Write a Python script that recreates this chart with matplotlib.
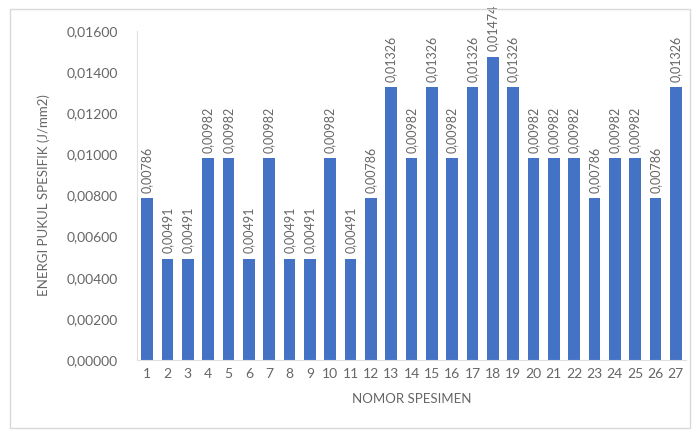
import matplotlib.pyplot as plt
from matplotlib.patches import Rectangle

# impact energy per specimen
specimens = list(range(1, 28))
energi = [0.00786, 0.00491, 0.00491, 0.00982, 0.00982, 0.00491, 0.00982, 0.00491, 0.00491,
          0.00982, 0.00491, 0.00786, 0.01326, 0.00982, 0.01326, 0.00982, 0.01326, 0.01474,
          0.01326, 0.00982, 0.00982, 0.00982, 0.00786, 0.00982, 0.00982, 0.00786, 0.01326]
yticks = [0.0, 0.002, 0.004, 0.006, 0.008, 0.010, 0.012, 0.014, 0.016]

plt.rcParams['font.family'] = ['Lato', 'DejaVu Sans']
grey = '#666666'

fig = plt.figure(figsize=(6.99, 4.36), dpi=100)
# chart frame
fig.patches.append(Rectangle((10 / 699, 1 - 428 / 436), 680 / 699, 419 / 436,
                             transform=fig.transFigure, fill=False, edgecolor='#D9D9D9', lw=1))

ax = fig.add_axes([137 / 699, 1 - 360 / 436, 549 / 699, 329 / 436])
ax.bar(specimens, energi, width=0.56, color='#4472C4')

for x, v in zip(specimens, energi):
    ax.annotate(f'{v:.5f}'.replace('.', ','), (x, v), xytext=(0, 4), textcoords='offset points',
                rotation=90, ha='center', va='bottom', fontsize=9, color=grey,
                annotation_clip=False)

ax.set_xlim(0.5, 27.5)
ax.set_ylim(0, 0.016)
ax.set_xticks(specimens)
ax.set_xticklabels([str(s) for s in specimens])
ax.set_yticks(yticks)
ax.set_yticklabels([f'{t:.5f}'.replace('.', ',') for t in yticks])
ax.tick_params(length=0, colors=grey, labelsize=10)
ax.tick_params(axis='x', pad=6)
ax.tick_params(axis='y', pad=14)

for side in ['top', 'right']:
    ax.spines[side].set_visible(False)
for side in ['left', 'bottom']:
    ax.spines[side].set_color('#E0E0E0')

ax.set_xlabel('NOMOR SPESIMEN', color=grey, fontsize=9.5, labelpad=9)
ax.set_ylabel('ENERGI PUKUL SPESIFIK (J/mm2)', color=grey, fontsize=9.5, labelpad=12)

fig.savefig('out.png', dpi=100)
